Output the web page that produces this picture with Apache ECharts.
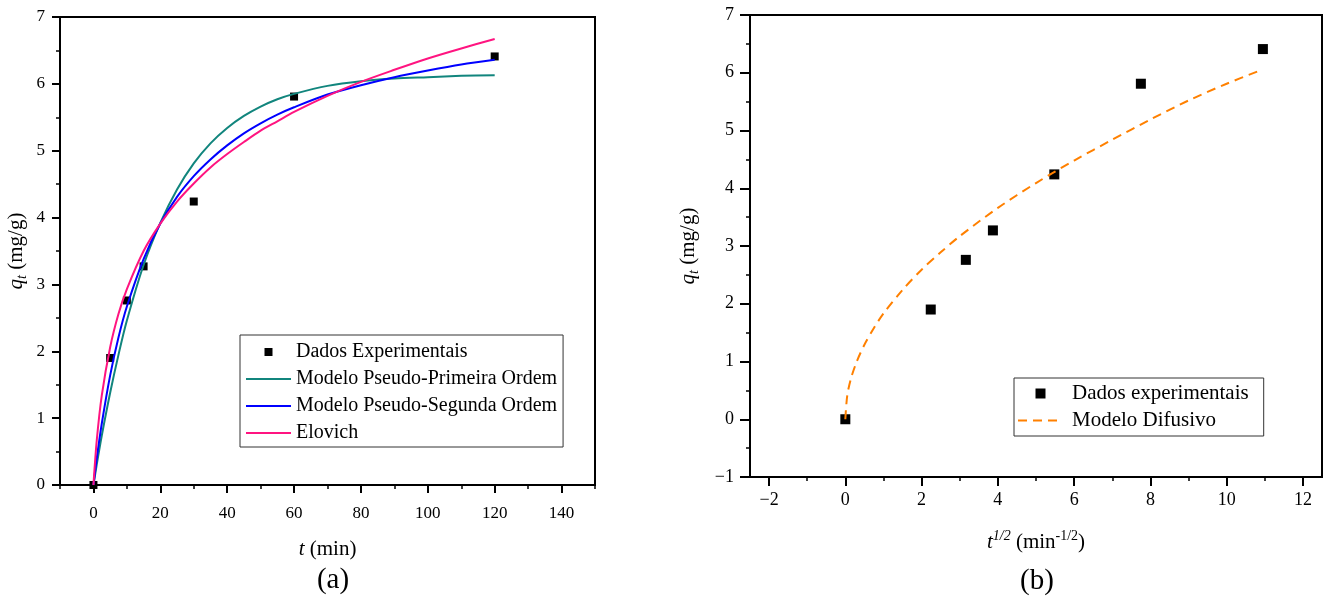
<!DOCTYPE html>
<html>
<head>
<meta charset="utf-8">
<script src="https://cdn.jsdelivr.net/npm/echarts@6/dist/echarts.min.js"></script>
<style>html,body{margin:0;padding:0;background:#fff}#c{width:1331px;height:601px}</style>
</head>
<body>
<div id="c"></div>
<script>
// ---- data ----
const tExp = [0, 5, 10, 15, 30, 60, 120];
const qExp = [0, 1.90, 2.76, 3.27, 4.24, 5.81, 6.41];
const tModel = [0, 1, 2.5, 5, 7.5, 10, 15, 20, 25, 30, 35, 40, 45, 50, 55, 60, 70, 80, 90, 100, 110, 120];
const qPFO = [0, 0.31, 0.74, 1.38, 1.95, 2.46, 3.29, 3.92, 4.42, 4.81, 5.11, 5.34, 5.52, 5.66, 5.77, 5.85, 5.97, 6.04, 6.08, 6.10, 6.12, 6.13];
const qPSO = [0, 0.40, 0.92, 1.64, 2.21, 2.67, 3.38, 3.91, 4.31, 4.62, 4.87, 5.08, 5.26, 5.41, 5.54, 5.65, 5.84, 5.98, 6.10, 6.20, 6.29, 6.36];
const qElo = [0, 0.67, 1.34, 2.06, 2.56, 2.93, 3.50, 3.91, 4.24, 4.51, 4.75, 4.95, 5.13, 5.30, 5.44, 5.58, 5.82, 6.03, 6.21, 6.38, 6.53, 6.67];
const sqrtExp = [0, 2.24, 3.16, 3.87, 5.48, 7.75, 10.95];
const xDif = [0, 0.05, 0.15, 0.3, 0.5, 0.75, 1, 1.5, 2, 2.5, 3, 4, 5, 6, 7, 8, 9, 10, 10.8];
const qDif = [0, 0.41, 0.71, 1.00, 1.29, 1.58, 1.83, 2.24, 2.59, 2.89, 3.17, 3.66, 4.09, 4.48, 4.84, 5.19, 5.52, 5.81, 6.02];
const xTicksA = [0, 20, 40, 60, 80, 100, 120, 140];
const xTicksB = [-2, 0, 2, 4, 6, 8, 10, 12];
const xMinorB = [-2, -1, 0, 1, 2, 3, 4, 5, 6, 7, 8, 9, 10, 11, 12];
const namesA = ['Dados Experimentais', 'Modelo Pseudo-Primeira Ordem', 'Modelo Pseudo-Segunda Ordem', 'Elovich'];
const namesB = ['Dados experimentais', 'Modelo Difusivo'];

const zip = (a, b) => a.map((v, i) => [v, b[i]]);
const FF = 'Liberation Serif';
const minus = v => String(v).replace('-', '\u2212');
const black = '#000';
const squareIcon = 'path://M0,0H10V10H0Z';

const chart = echarts.init(document.getElementById('c'), null, {renderer: 'canvas'});

const lineAxis = {show: true, onZero: false, lineStyle: {color: black, width: 2}};
const noLine = {show: false, onZero: false};
const legendLine = n => ({name: n, itemStyle: {opacity: 0}});

const option = {
  animation: false,
  backgroundColor: '#fff',
  textStyle: {fontFamily: FF, color: black},
  grid: [
    {left: 60, top: 17, width: 535, height: 468, show: true, borderColor: black, borderWidth: 2, backgroundColor: 'transparent'},
    {left: 750, top: 15, width: 572, height: 462, show: true, borderColor: black, borderWidth: 2, backgroundColor: 'transparent'}
  ],
  xAxis: [
    {gridIndex: 0, type: 'value', position: 'bottom', min: -10, max: 150, interval: 10,
      axisLine: lineAxis, axisTick: {show: true, length: 4, lineStyle: {color: black, width: 1.5}},
      axisLabel: {show: false}, splitLine: {show: false}},
    {gridIndex: 0, type: 'value', position: 'bottom', min: -10, max: 150,
      axisLine: noLine, axisTick: {show: true, length: 8, customValues: xTicksA, lineStyle: {color: black, width: 2}},
      axisLabel: {show: true, customValues: xTicksA, margin: 20, fontSize: 17, fontFamily: FF, color: black},
      splitLine: {show: false},
      name: '{i|t}{n| (min)}', nameLocation: 'middle', nameGap: 51,
      nameTextStyle: {color: black, rich: {
        i: {fontFamily: FF, fontStyle: 'italic', fontSize: 21, lineHeight: 26, color: black},
        n: {fontFamily: FF, fontSize: 21, lineHeight: 26, color: black}}}},
    {gridIndex: 1, type: 'value', position: 'bottom', min: -2.5, max: 12.5,
      axisLine: lineAxis, axisTick: {show: true, length: 4, customValues: xMinorB, lineStyle: {color: black, width: 1.5}},
      axisLabel: {show: false}, splitLine: {show: false}},
    {gridIndex: 1, type: 'value', position: 'bottom', min: -2.5, max: 12.5,
      axisLine: noLine, axisTick: {show: true, length: 9, customValues: xTicksB, lineStyle: {color: black, width: 2}},
      axisLabel: {show: true, customValues: xTicksB, margin: 14, fontSize: 18, fontFamily: FF, color: black, formatter: minus},
      splitLine: {show: false},
      name: '{i|t}{si|1/2}{n| (min}{s|-1/2}{n|)}', nameLocation: 'middle', nameGap: 52,
      nameTextStyle: {color: black, rich: {
        i: {fontFamily: FF, fontStyle: 'italic', fontSize: 21, lineHeight: 26, color: black},
        si: {fontFamily: FF, fontStyle: 'italic', fontSize: 14, lineHeight: 14, verticalAlign: 'top', color: black},
        s: {fontFamily: FF, fontSize: 14, lineHeight: 14, verticalAlign: 'top', color: black},
        n: {fontFamily: FF, fontSize: 21, lineHeight: 26, color: black}}}}
  ],
  yAxis: [
    {gridIndex: 0, type: 'value', min: 0, max: 7, interval: 1,
      axisLine: lineAxis, axisTick: {show: true, length: 8, lineStyle: {color: black, width: 2}},
      minorTick: {show: true, splitNumber: 2, length: 4, lineStyle: {color: black, width: 1.5}},
      axisLabel: {margin: 15, fontSize: 17, fontFamily: FF, color: black},
      splitLine: {show: false}, minorSplitLine: {show: false},
      name: '{i|q}{b|t}{n| (mg/g)}', nameLocation: 'middle', nameGap: 31,
      nameTextStyle: {color: black, rich: {
        i: {fontFamily: FF, fontStyle: 'italic', fontSize: 21, lineHeight: 26, color: black},
        b: {fontFamily: FF, fontStyle: 'italic', fontSize: 14, lineHeight: 17, verticalAlign: 'bottom', color: black},
        n: {fontFamily: FF, fontSize: 21, lineHeight: 26, color: black}}}},
    {gridIndex: 1, type: 'value', min: -1, max: 7, interval: 1,
      axisLine: lineAxis, axisTick: {show: true, length: 10, lineStyle: {color: black, width: 2}},
      minorTick: {show: true, splitNumber: 2, length: 4, lineStyle: {color: black, width: 1.5}},
      axisLabel: {margin: 16, fontSize: 18, fontFamily: FF, color: black, formatter: minus},
      splitLine: {show: false}, minorSplitLine: {show: false},
      name: '{i|q}{b|t}{n| (mg/g)}', nameLocation: 'middle', nameGap: 49,
      nameTextStyle: {color: black, rich: {
        i: {fontFamily: FF, fontStyle: 'italic', fontSize: 21, lineHeight: 26, color: black},
        b: {fontFamily: FF, fontStyle: 'italic', fontSize: 14, lineHeight: 17, verticalAlign: 'bottom', color: black},
        n: {fontFamily: FF, fontSize: 21, lineHeight: 26, color: black}}}}
  ],
  legend: [
    {left: 240, top: 335, orient: 'vertical', padding: [7, 6, 4, 5], itemGap: 7, itemWidth: 45, itemHeight: 8,
      borderColor: '#333', borderWidth: 1, backgroundColor: '#fff', symbolKeepAspect: true,
      textStyle: {fontFamily: FF, fontSize: 20, color: black},
      data: [{name: namesA[0], icon: squareIcon}, legendLine(namesA[1]), legendLine(namesA[2]), legendLine(namesA[3])]},
    {left: 1014, top: 378, orient: 'vertical', padding: [5, 15, 5, 3], itemGap: 6, itemWidth: 45, itemHeight: 10,
      borderColor: '#333', borderWidth: 1, backgroundColor: '#fff', symbolKeepAspect: true,
      textStyle: {fontFamily: FF, fontSize: 21, color: black, padding: [0, 0, 0, 4]},
      data: [{name: namesB[0], icon: squareIcon}, legendLine(namesB[1])]}
  ],
  graphic: [
    {type: 'text', x: 333, y: 580, style: {text: '(a)', font: "29px 'Liberation Serif'", fill: black, textAlign: 'center', textVerticalAlign: 'middle'}},
    {type: 'text', x: 1037, y: 581, style: {text: '(b)', font: "29px 'Liberation Serif'", fill: black, textAlign: 'center', textVerticalAlign: 'middle'}}
  ],
  series: [
    {name: namesA[0], type: 'scatter', xAxisIndex: 0, yAxisIndex: 0, symbol: 'rect', symbolSize: 8,
      itemStyle: {color: black, opacity: 1}, data: zip(tExp, qExp)},
    {name: namesA[1], type: 'line', xAxisIndex: 0, yAxisIndex: 0, smooth: 0.3, symbol: 'none',
      lineStyle: {color: '#11857D', width: 2}, itemStyle: {color: '#11857D'}, data: zip(tModel, qPFO)},
    {name: namesA[2], type: 'line', xAxisIndex: 0, yAxisIndex: 0, smooth: 0.3, symbol: 'none',
      lineStyle: {color: '#0000FF', width: 2}, itemStyle: {color: '#0000FF'}, data: zip(tModel, qPSO)},
    {name: namesA[3], type: 'line', xAxisIndex: 0, yAxisIndex: 0, smooth: 0.3, symbol: 'none',
      lineStyle: {color: '#FF1480', width: 2}, itemStyle: {color: '#FF1480'}, data: zip(tModel, qElo)},
    {name: namesB[0], type: 'scatter', xAxisIndex: 2, yAxisIndex: 1, symbol: 'rect', symbolSize: 10,
      itemStyle: {color: black, opacity: 1}, data: zip(sqrtExp, qExp)},
    {name: namesB[1], type: 'line', xAxisIndex: 2, yAxisIndex: 1, smooth: 0.3, symbol: 'none',
      lineStyle: {color: '#FF8000', width: 2, type: [9, 6]}, itemStyle: {color: '#FF8000'}, data: zip(xDif, qDif)}
  ]
};
chart.setOption(option);
</script>
</body>
</html>
